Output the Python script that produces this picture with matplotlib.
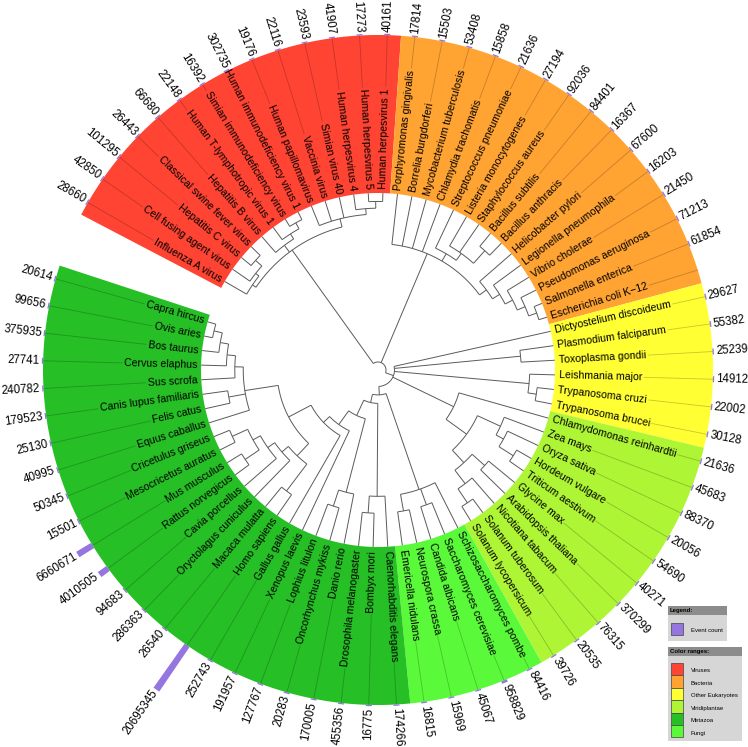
import numpy as np
import matplotlib
matplotlib.use("Agg")
import matplotlib.pyplot as plt
from matplotlib.patches import Polygon, Rectangle
from matplotlib.font_manager import FontProperties

# ---------------- data ----------------
virus_taxa = ["Influenza A virus", "Cell fusing agent virus", "Hepatitis C virus",
              "Classical swine fever virus", "Hepatitis B virus", "Human T-lymphotropic virus 1",
              "Simian immunodeficiency virus", "Human immunodeficiency virus 1",
              "Human papillomavirus", "Vaccinia virus", "Simian virus 40",
              "Human herpesvirus 4", "Human herpesvirus 5", "Human herpesvirus 1"]
virus_counts = [28660, 42850, 101295, 26443, 66680, 22148, 16392, 302735, 19176,
                22116, 23593, 41907, 17273, 40161]

bacteria_taxa = ["Porphyromonas gingivalis", "Borrelia burgdorferi", "Mycobacterium tuberculosis",
                 "Chlamydia trachomatis", "Streptococcus pneumoniae", "Listeria monocytogenes",
                 "Staphylococcus aureus", "Bacillus subtilis", "Bacillus anthracis",
                 "Helicobacter pylori", "Legionella pneumophila", "Vibrio cholerae",
                 "Pseudomonas aeruginosa", "Salmonella enterica", "Escherichia coli K\u221212"]
bacteria_counts = [17814, 15503, 53408, 15858, 21636, 27194, 92036, 84401, 16367,
                   67600, 16203, 21450, 71213, 61854, None]

other_taxa = ["Dictyostelium discoideum", "Plasmodium falciparum", "Toxoplasma gondii",
              "Leishmania major", "Trypanosoma cruzi", "Trypanosoma brucei"]
other_counts = [29627, 55382, 25239, 14912, 22002, 30128]

plant_taxa = ["Chlamydomonas reinhardtii", "Zea mays", "Oryza sativa", "Hordeum vulgare",
              "Triticum aestivum", "Glycine max", "Arabidopsis thaliana", "Nicotiana tabacum",
              "Solanum tuberosum", "Solanum lycopersicum"]
plant_counts = [21636, 45683, 88370, 20056, 54690, 40271, 370299, 76315, 20535, 39726]

fungi_taxa = ["Schizosaccharomyces pombe", "Saccharomyces cerevisiae", "Candida albicans",
              "Neurospora crassa", "Emericella nidulans"]
fungi_counts = [84416, 958829, 45067, 15969, 16815]

metazoa_taxa = ["Caenorhabditis elegans", "Bombyx mori", "Drosophila melanogaster", "Danio rerio",
                "Oncorhynchus mykiss", "Lophius litulon", "Xenopus laevis", "Gallus gallus",
                "Homo sapiens", "Macaca mulatta", "Oryctolagus cuniculus", "Cavia porcellus",
                "Rattus norvegicus", "Mus musculus", "Mesocricetus auratus", "Cricetulus griseus",
                "Equus caballus", "Felis catus", "Canis lupus familiaris", "Sus scrofa",
                "Cervus elaphus", "Bos taurus", "Ovis aries", "Capra hircus"]
metazoa_counts = [174266, 16775, 455356, 170005, 20283, 127767, 191957, 252743, 20695345,
                  26540, 286363, 94683, 4010505, 6660671, 15501, 50345, 40995, 25130,
                  179523, 240782, 27741, 375935, 99656, 20614]

legend_names = ["Viruses", "Bacteria", "Other Eukaryotes", "Viridiplantae", "Metazoa", "Fungi"]
legend_colors = ["#FF4433", "#FFA333", "#FFFF33", "#AEF535", "#26BF26", "#5AFA3A"]

# ring order (clockwise) of the clades
ring = [(virus_taxa, virus_counts, 0), (bacteria_taxa, bacteria_counts, 1),
        (other_taxa, other_counts, 2), (plant_taxa, plant_counts, 3),
        (fungi_taxa, fungi_counts, 5), (metazoa_taxa, metazoa_counts, 4)]

# tree topology: [height level, children...]
V, B, O, P, F, M = virus_taxa, bacteria_taxa, other_taxa, plant_taxa, fungi_taxa, metazoa_taxa
viruses = [3.5, [3, V[0], [2.5, V[1], [1.5, V[2], V[3]]]],
           [2.5, V[4], [1.8, V[5], [1, V[6], V[7]]]],
           [2.5, V[8], V[9], V[10], [1.8, V[11], [1, V[12], V[13]]]]]
bacteria = [6, B[0], B[1], B[2], B[3],
            [5, B[4], [4, B[5], B[6], [2, B[7], B[8]]]],
            [5, B[9], [4, B[10], [3, B[11], [2, B[12], [1, B[13], B[14]]]]]]]
plants = [11, P[0], [8, [5, P[1], [4, P[2], [2, P[3], P[4]]]],
                     [6, [4, P[5], P[6]], [4, P[7], [2, P[8], P[9]]]]]]
fungi = [6, F[0], [4, F[1], F[2]], [4, F[3], F[4]]]
metazoa = [17, [6, M[0], [4, M[1], M[2]]],
           [15, [6, M[3], [4, M[4], M[5]]],
            [13, M[6],
             [12, M[7],
              [9, [7, [3, M[8], M[9]],
                   [6, M[10], [5, M[11], [4, [2, M[12], M[13]], [2, M[14], M[15]]]]]],
                  [5, M[16], [3, M[17], M[18]],
                   [4, M[19], [3, M[20], [2, M[21], [1, M[22], M[23]]]]]]]]]]]
eukaryota = [19, O[0], [4, O[1], O[2]], [3, O[3], [2, O[4], O[5]]], plants, [18, fungi, metazoa]]
tree = [20, viruses, bacteria, eukaryota]

# ---------------- layout / style ----------------
W, H = 748, 747
CX, CY = 378, 370
R_LEAF = 177.0
R_OUT = 335.0
UNIT = 8.45
THETA0 = 150.0
STEP = 360.0 / 76
BAR_MAX = 54.0
FS_LEAF = 7.6
FS_NUM = 8.3
FAM = ["Liberation Sans", "DejaVu Sans"]

fig = plt.figure(figsize=(W / 100, H / 100), dpi=100)
ax = fig.add_axes([0, 0, 1, 1])
ax.set_xlim(0, W)
ax.set_ylim(H, 0)
ax.axis("off")


def pt(r, a):
    t = np.radians(a)
    return CX + r * np.cos(t), CY - r * np.sin(t)


def sector(r0, r1, a0, a1, n=120):
    t = np.linspace(a0, a1, n)
    outer = [pt(r1, a) for a in t]
    inner = [pt(r0, a) for a in t[::-1]]
    return outer + inner


leaf_angle = {}
leaf_info = []
idx = 0
for taxa, counts, ci in ring:
    a_first = THETA0 - idx * STEP
    for name, cnt in zip(taxa, counts):
        a = THETA0 - idx * STEP
        leaf_angle[name] = a
        leaf_info.append((name, cnt, a))
        idx += 1
    a_last = THETA0 - (idx - 1) * STEP
    ax.add_patch(Polygon(sector(R_LEAF, R_OUT, a_first + STEP / 2, a_last - STEP / 2),
                         closed=True, facecolor=legend_colors[ci], edgecolor="none", zorder=1))

renderer = fig.canvas.get_renderer()
fp = FontProperties(family=FAM, size=FS_LEAF)
all_counts = [c for _, c, _ in leaf_info if c is not None]
cmax = max(all_counts)

for name, cnt, a in leaf_info:
    right = np.cos(np.radians(a)) >= 0
    rot = a if right else a - 180
    r_lab = R_LEAF + 4
    x, y = pt(r_lab, a)
    ax.text(x, y, name, rotation=rot, rotation_mode="anchor", ha="left" if right else "right",
            va="center", fontsize=FS_LEAF, family=FAM, color="black", zorder=4)
    w, h, d = renderer.get_text_width_height_descent(name, fp, ismath=False)
    r_end = r_lab + w + 2
    if r_end < R_OUT:
        p0, p1 = pt(r_end, a), pt(R_OUT, a)
        ax.plot([p0[0], p1[0]], [p0[1], p1[1]], color=(0, 0, 0, 0.22), lw=0.6, zorder=2)
    if cnt is None:
        continue
    blen = max(1.3, cnt / cmax * BAR_MAX)
    hw = np.degrees(3.0 / R_OUT)
    corners = [pt(R_OUT, a - hw), pt(R_OUT + blen, a - hw), pt(R_OUT + blen, a + hw), pt(R_OUT, a + hw)]
    ax.add_patch(Polygon(corners, closed=True, facecolor="#9575E0", edgecolor="none", zorder=3))
    xt, yt = pt(R_OUT + blen + 2, a)
    ax.text(xt, yt, str(cnt), rotation=rot, rotation_mode="anchor", ha="left" if right else "right",
            va="center", fontsize=FS_NUM, family=FAM, color="black", zorder=4)

TREE_KW = dict(color="#5a5a5a", lw=0.7, zorder=2, solid_capstyle="butt")


def draw(node):
    if isinstance(node, str):
        return leaf_angle[node], R_LEAF
    r = R_LEAF - node[0] * UNIT
    kids = [draw(c) for c in node[1:]]
    angs = [k[0] for k in kids]
    a = float(np.mean(angs))
    t = np.linspace(angs[0], angs[-1], 80)
    xs, ys = zip(*[pt(r, tt) for tt in t])
    ax.plot(xs, ys, **TREE_KW)
    for ka, kr in kids:
        p0, p1 = pt(r, ka), pt(kr, ka)
        ax.plot([p0[0], p1[0]], [p0[1], p1[1]], **TREE_KW)
    return a, r


draw(tree)

# ---------------- legends ----------------
LFS = 4.3
ax.add_patch(Rectangle((668, 606), 59, 9, facecolor="#8c8c8c", edgecolor="none", zorder=5))
ax.add_patch(Rectangle((668, 615), 59, 26, facecolor="#d6d6d6", edgecolor="none", zorder=5))
ax.text(670, 610.8, "Legend:", fontsize=LFS, fontweight="bold", family=FAM, va="center", zorder=6)
ax.add_patch(Rectangle((671, 623), 12, 12, facecolor="#9575E0", edgecolor="#444444", lw=0.5, zorder=6))
ax.text(691, 630, "Event count", fontsize=LFS, family=FAM, va="center", zorder=6)

ax.add_patch(Rectangle((668, 647), 74, 9, facecolor="#8c8c8c", edgecolor="none", zorder=5))
ax.add_patch(Rectangle((668, 656), 74, 85, facecolor="#d6d6d6", edgecolor="none", zorder=5))
ax.text(670, 651.5, "Color ranges:", fontsize=LFS, fontweight="bold", family=FAM, va="center", zorder=6)
for i, (nm, col) in enumerate(zip(legend_names, legend_colors)):
    y0 = 663 + i * 12.4
    ax.add_patch(Rectangle((671, y0), 12, 12.4, facecolor=col, edgecolor="#444444", lw=0.5, zorder=6))
    ax.text(691, y0 + 8, nm, fontsize=LFS, family=FAM, va="center", zorder=6)

fig.savefig("out.png", dpi=100, facecolor="white")
